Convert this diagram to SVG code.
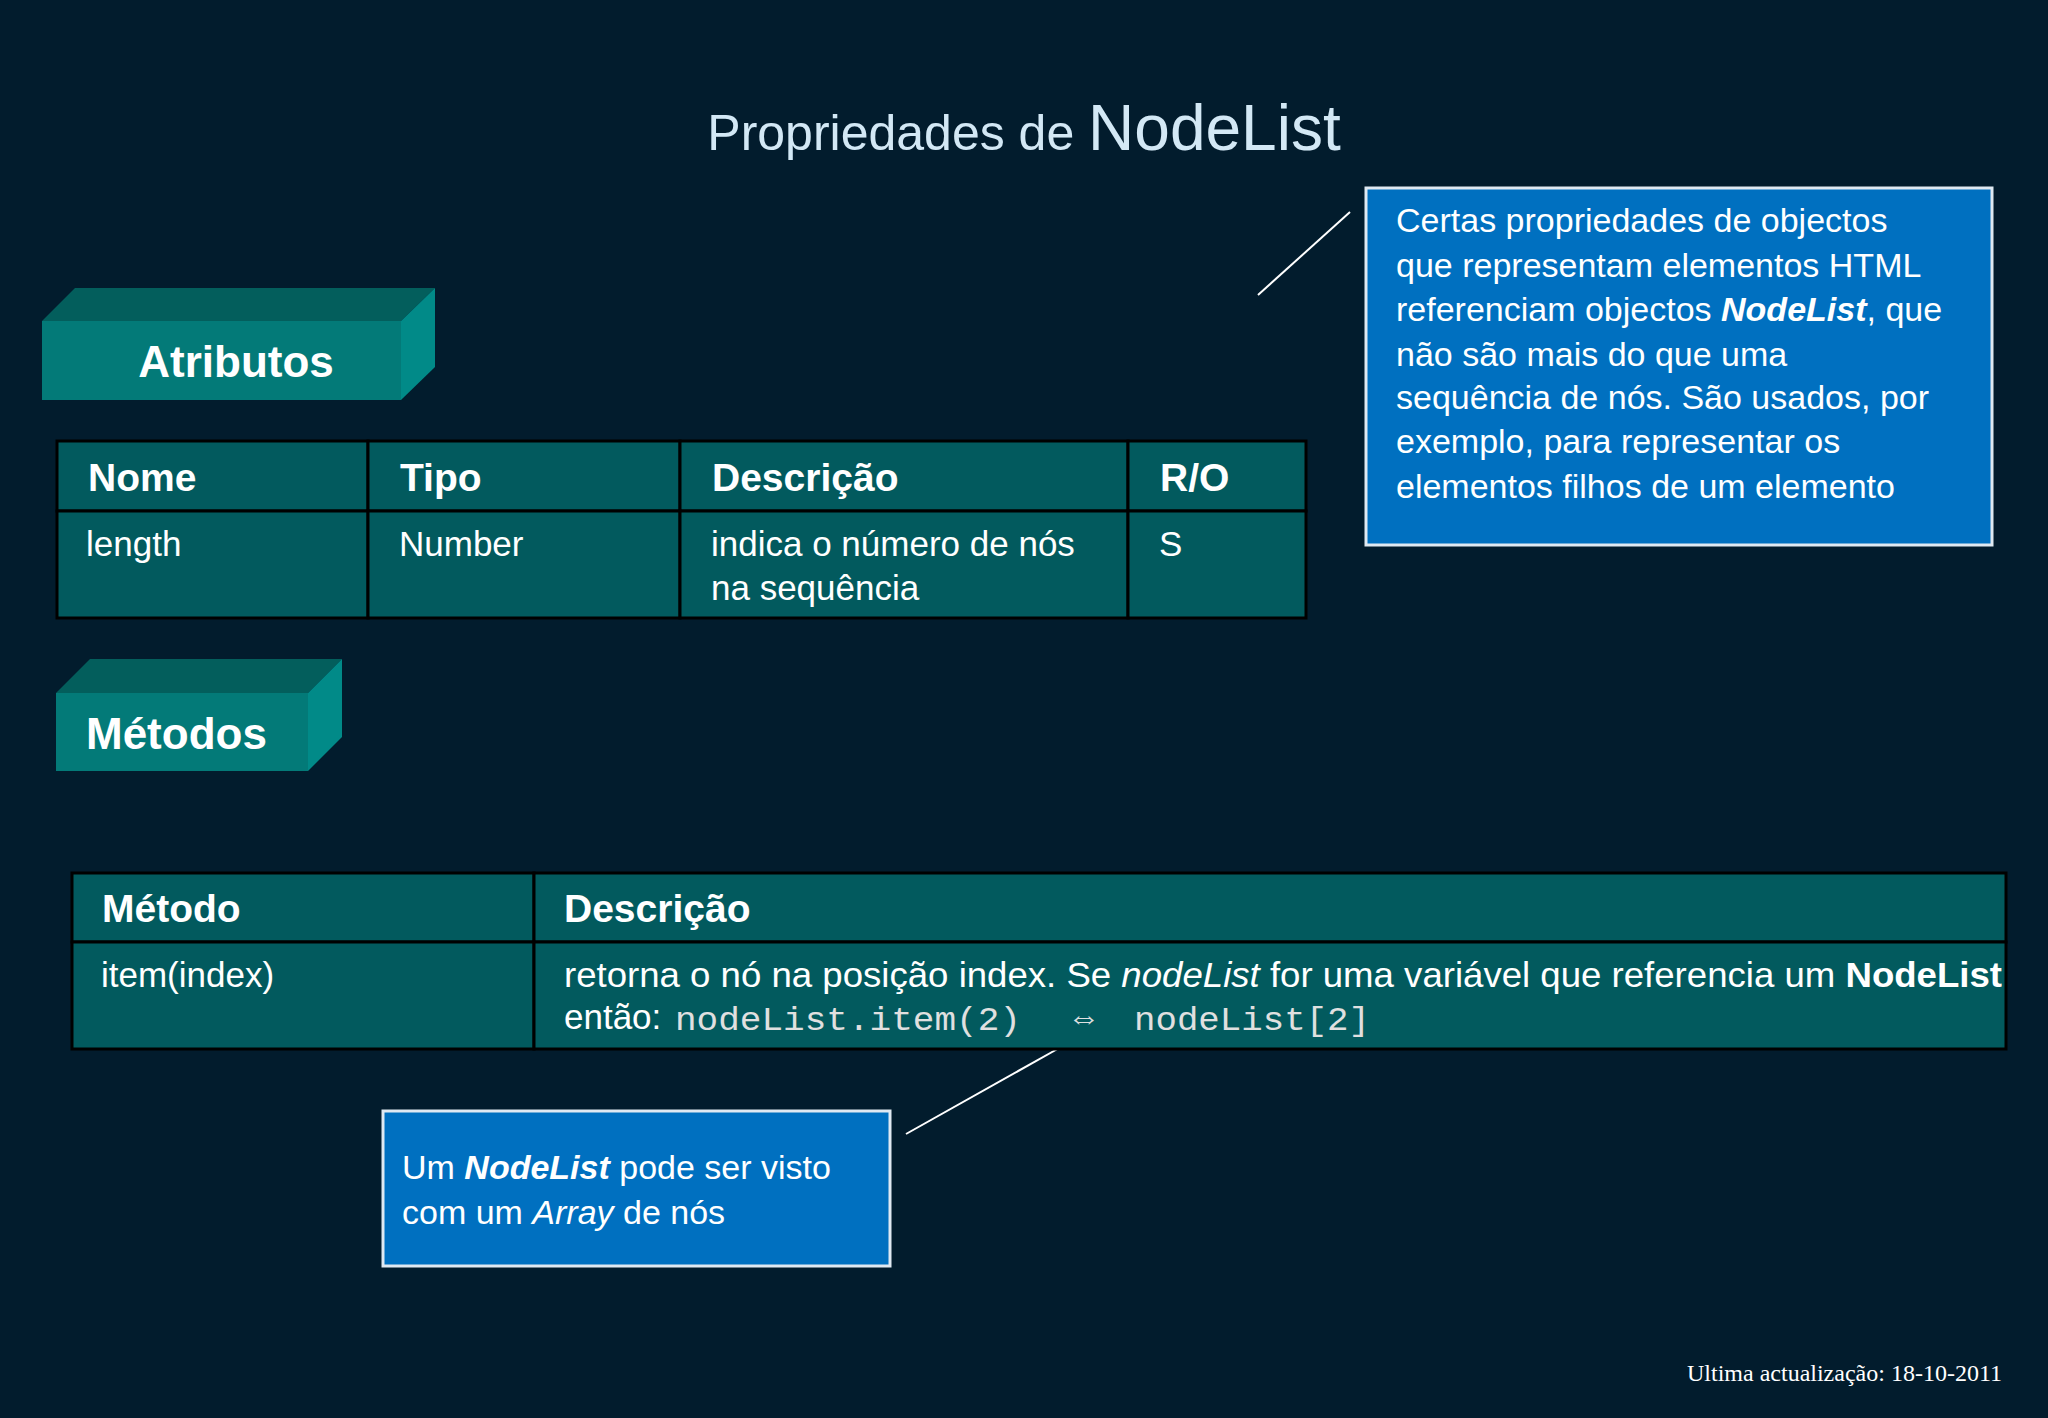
<svg xmlns="http://www.w3.org/2000/svg" width="2048" height="1418" viewBox="0 0 2048 1418">
<style>
.s{font-family:"Liberation Sans",Arial,sans-serif;fill:#fff}
.h{font-size:39px;font-weight:bold}
.c{font-size:35px}
.m{font-family:"Liberation Mono","DejaVu Sans Mono",monospace;font-size:33px;fill:#e0e0e0}
.cell{fill:#025a5e;stroke:#000;stroke-width:3}
.call{fill:#0070c0;stroke:#dfe9f2;stroke-width:3}
.ln{stroke:#fff;stroke-width:2}
</style>
<rect width="2048" height="1418" fill="#021c2d"/>
<text x="1024" y="150" text-anchor="middle" font-family="Liberation Sans,Arial,sans-serif" fill="#d3e8f5"><tspan font-size="50">Propriedades de </tspan><tspan font-size="64">NodeList</tspan></text>

<g id="connectors">
<line class="ln" x1="1258" y1="295" x2="1350" y2="212"/>
<line class="ln" x1="906" y1="1134" x2="1061" y2="1047"/>
</g>

<g id="atributos">
<polygon points="42,321 75,288 435,288 401,321" fill="#035e5c"/>
<polygon points="401,321 435,288 435,367 401,400" fill="#018a88"/>
<rect x="42" y="321" width="359" height="79" fill="#037a78"/>
<text class="s" x="236" y="377" text-anchor="middle" font-size="44" font-weight="bold">Atributos</text>
</g>

<g id="metodos">
<polygon points="56,693 90,659 342,659 308,693" fill="#035e5c"/>
<polygon points="308,693 342,659 342,737 308,771" fill="#018a88"/>
<rect x="56" y="693" width="252" height="78" fill="#037a78"/>
<text class="s" x="86" y="749" font-size="44" font-weight="bold">Métodos</text>
</g>

<g id="tabela-atributos">
<rect class="cell" x="57" y="441" width="311" height="70"/>
<rect class="cell" x="368" y="441" width="312" height="70"/>
<rect class="cell" x="680" y="441" width="448" height="70"/>
<rect class="cell" x="1128" y="441" width="178" height="70"/>
<rect class="cell" x="57" y="511" width="311" height="107"/>
<rect class="cell" x="368" y="511" width="312" height="107"/>
<rect class="cell" x="680" y="511" width="448" height="107"/>
<rect class="cell" x="1128" y="511" width="178" height="107"/>
<text class="s h" x="88" y="491">Nome</text>
<text class="s h" x="400" y="491">Tipo</text>
<text class="s h" x="712" y="491">Descrição</text>
<text class="s h" x="1160" y="491">R/O</text>
<text class="s c" x="86" y="556">length</text>
<text class="s c" x="399" y="556">Number</text>
<text class="s c" x="711" y="556">indica o número de nós</text>
<text class="s c" x="711" y="600">na sequência</text>
<text class="s c" x="1159" y="556">S</text>
</g>

<g id="tabela-metodos">
<rect class="cell" x="72" y="873" width="462" height="69"/>
<rect class="cell" x="534" y="873" width="1472" height="69"/>
<rect class="cell" x="72" y="942" width="462" height="107"/>
<rect class="cell" x="534" y="942" width="1472" height="107"/>
<text class="s h" x="102" y="922">Método</text>
<text class="s h" x="564" y="922">Descrição</text>
<text class="s c" x="101" y="987">item(index)</text>
<text class="s c" x="564" y="987" textLength="1438" lengthAdjust="spacingAndGlyphs">retorna o nó na posição index. Se <tspan font-style="italic">nodeList</tspan> for uma variável que referencia um <tspan font-weight="bold">NodeList</tspan></text>
<text class="s c" x="564" y="1029">então:</text>
<text class="m" x="675" y="1030" textLength="346" lengthAdjust="spacingAndGlyphs">nodeList.item(2)</text>
<text class="m" x="1074" y="1028" font-family="DejaVu Sans,sans-serif" font-size="30">⇔</text>
<text class="m" x="1134" y="1030" textLength="236" lengthAdjust="spacingAndGlyphs">nodeList[2]</text>
</g>

<g id="nota-nodelist">
<rect class="call" x="1366" y="188" width="626" height="357"/>
<text class="s" font-size="34">
<tspan x="1396" y="232">Certas propriedades de objectos</tspan>
<tspan x="1396" y="277">que representam elementos HTML</tspan>
<tspan x="1396" y="321">referenciam objectos <tspan font-weight="bold" font-style="italic">NodeList</tspan>, que</tspan>
<tspan x="1396" y="366">não são mais do que uma</tspan>
<tspan x="1396" y="409">sequência de nós.  São usados, por</tspan>
<tspan x="1396" y="453">exemplo, para representar os</tspan>
<tspan x="1396" y="498">elementos filhos de um elemento</tspan>
</text>
</g>

<g id="nota-array">
<rect class="call" x="383" y="1111" width="507" height="155"/>
<text class="s" font-size="34">
<tspan x="402" y="1179">Um <tspan font-weight="bold" font-style="italic">NodeList</tspan> pode ser visto</tspan>
<tspan x="402" y="1224">com um <tspan font-style="italic">Array</tspan> de nós</tspan>
</text>
</g>

<text x="2002" y="1381" text-anchor="end" font-family="Liberation Serif,Times New Roman,serif" font-size="24" fill="#fff">Ultima actualização: 18-10-2011</text>
</svg>
